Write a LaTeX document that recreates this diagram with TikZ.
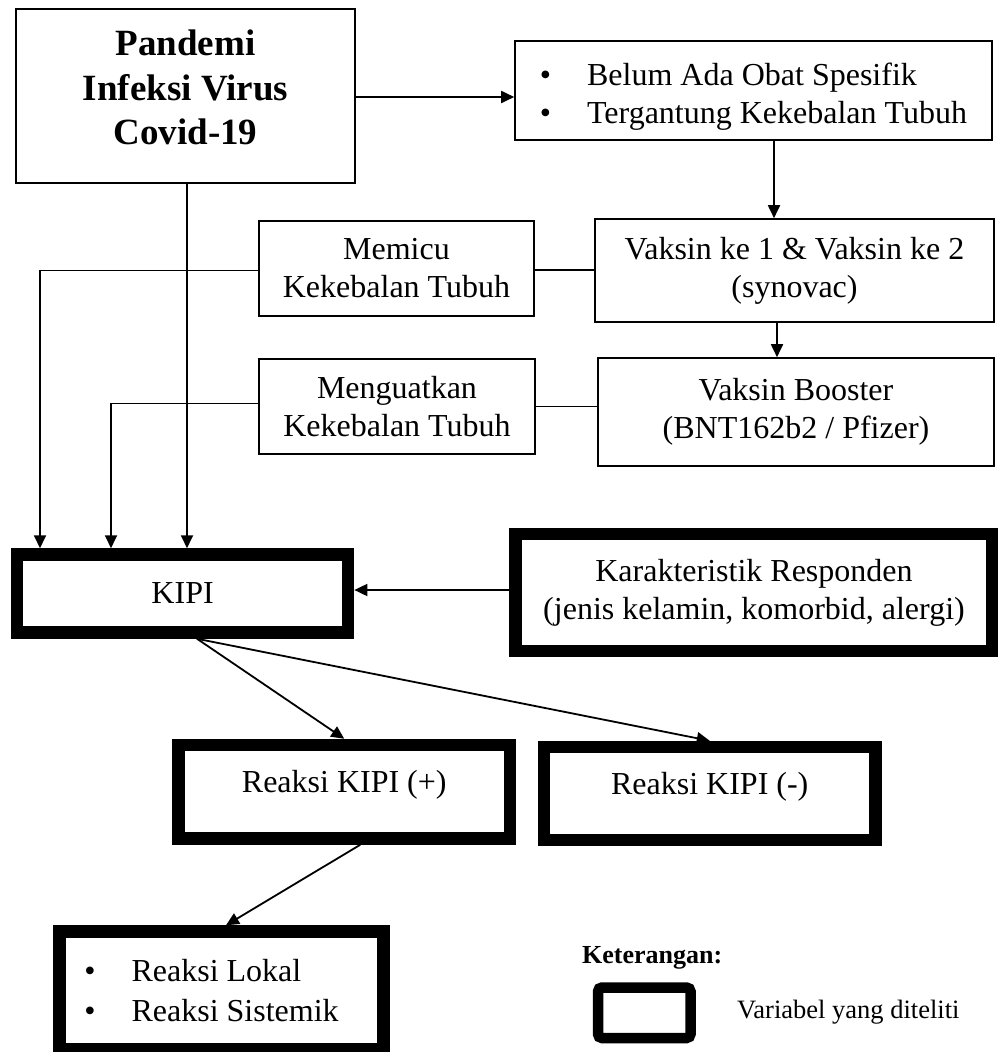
\documentclass[tikz,border=0pt]{standalone}
\usepackage{fontspec}
\setmainfont{Liberation Serif}
\usetikzlibrary{arrows.meta}
\begin{document}
\begin{tikzpicture}[x=1pt,y=-1pt,
  thinbox/.style={draw=black,line width=1.6pt,rectangle,inner sep=0pt,align=center,
    font=\fontsize{32}{38}\selectfont},
  thickbox/.style={draw=black,line width=12.5pt,rectangle,inner sep=0pt,align=center,
    font=\fontsize{32}{38}\selectfont},
  conn/.style={line width=1.8pt,draw=black},
  arr/.style={conn,-{Triangle[length=13pt,width=12pt]}}]
\useasboundingbox[fill=white] (0,0) rectangle (997,1052);

% thin boxes
\node[thinbox,minimum width=339pt,minimum height=174pt,
  font=\fontsize{37}{44.5}\selectfont\bfseries,text depth=17pt] (A) at (185.5,96)
  {Pandemi\\Infeksi Virus\\Covid-19};
\node[thinbox,minimum width=477pt,minimum height=99pt,align=left,text height=66pt,text depth=0pt] (B) at (753.5,90.5)
  {\textbullet\hspace{36pt}Belum Ada Obat Spesifik\\\textbullet\hspace{36pt}Tergantung Kekebalan Tubuh};
\node[thinbox,minimum width=399pt,minimum height=103pt] (V1) at (794.5,270.5)
  {Vaksin ke 1 \& Vaksin ke 2\\(synovac)};
\node[thinbox,minimum width=396pt,minimum height=108pt] (Boost) at (796,412)
  {Vaksin Booster\\(BNT162b2 / Pfizer)};
\node[thinbox,minimum width=275pt,minimum height=95pt] (Mem) at (396.5,268.5)
  {Memicu\\Kekebalan Tubuh};
\node[thinbox,minimum width=276pt,minimum height=95pt] (Men) at (397,406.5)
  {Menguatkan\\Kekebalan Tubuh};

% thick boxes
\node[thickbox,minimum width=331pt,minimum height=78pt] (KIPI) at (182.6,593.5) {KIPI};
\node[thickbox,minimum width=477pt,minimum height=117pt] (Kar) at (754,592.5)
  {Karakteristik Responden\\(jenis kelamin, komorbid, alergi)};
\node[thickbox,minimum width=331.5pt,minimum height=93.5pt,text height=22pt,text depth=21pt] (Rp) at (344.25,791.75)
  {Reaksi KIPI (+)};
\node[thickbox,minimum width=331.5pt,minimum height=93pt,text height=22pt,text depth=21pt] (Rm) at (709.75,793.5)
  {Reaksi KIPI (-)};
\node[thickbox,minimum width=324pt,minimum height=117.5pt,align=left] (Bul) at (221.5,990.25)
  {\textbullet\hspace{36pt}Reaksi Lokal\\[2pt]\textbullet\hspace{36pt}Reaksi Sistemik\hspace*{20pt}};

% legend
\node[anchor=west,inner sep=0pt,font=\fontsize{26}{30}\selectfont\bfseries] (ket) at (582,958) {Keterangan:};
\node[draw=black,line width=10.5pt,rounded corners=4pt,minimum width=92.5pt,minimum height=50.5pt,inner sep=0pt] (leg) at (644.25,1012.75) {};
\node[anchor=west,inner sep=0pt,font=\fontsize{26.5}{30}\selectfont] (legtxt) at (737,1012) {Variabel yang diteliti};

% connectors
\draw[arr] ([yshift=-1pt]A.east) -- ([yshift=-1pt]A.east -| B.west);
\draw[arr] ([xshift=20.5pt]B.south) -- ([xshift=20.5pt]B.south |- V1.north);
\draw[arr] ([xshift=-17.5pt]V1.south) -- ([xshift=-17.5pt]V1.south |- Boost.north);
\draw[conn] ([yshift=-1.5pt]Mem.east) -- ([yshift=-1.5pt]Mem.east -| V1.west);
\draw[conn] (Men.east) -- (Men.east -| Boost.west);
\draw[arr] ([yshift=-2pt]Mem.west) -| ([xshift=-142.6pt]KIPI.north);
\draw[arr] ([yshift=3pt]Men.west) -| ([xshift=-71.6pt]KIPI.north);
\draw[arr] ([xshift=1.5pt]A.south) -- ([xshift=1.5pt]A.south |- KIPI.north);
\draw[arr] ([yshift=2.5pt]Kar.west) -- ([yshift=2.5pt]Kar.west -| KIPI.east);
\draw[arr] ([xshift=14.4pt]KIPI.south) -- (Rp.north);
\draw[arr] ([xshift=14.4pt]KIPI.south) -- (Rm.north);
\draw[arr] ([xshift=16pt]Rp.south) -- ([xshift=4.5pt]Bul.north);
\end{tikzpicture}
\end{document}
